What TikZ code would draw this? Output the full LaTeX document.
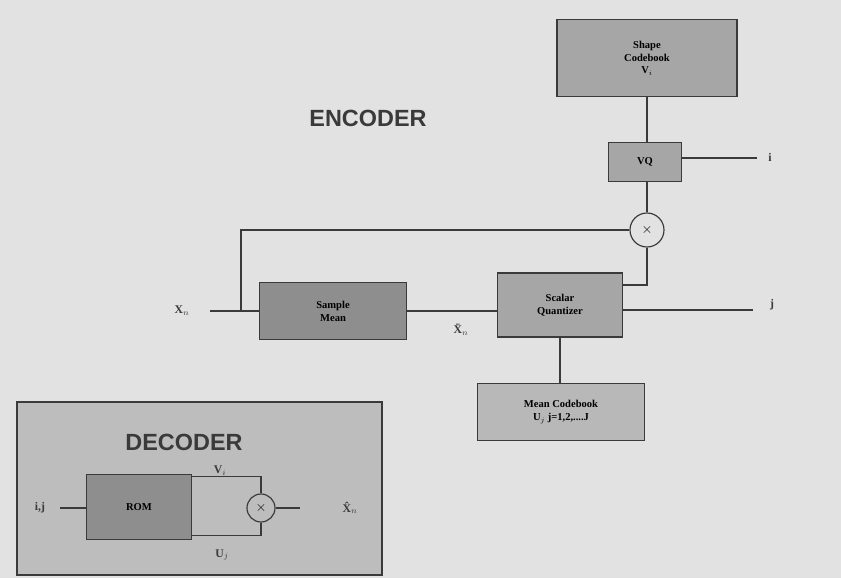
\documentclass[tikz,border=0pt]{standalone}
\usepackage{fontspec}
\setmainfont{Liberation Serif}
\newfontfamily\headfont{Liberation Sans}
\usetikzlibrary{positioning, calc}
\definecolor{scanBg}{HTML}{E2E2E2}
\definecolor{inkDark}{HTML}{3A3A3A}
\definecolor{boxGray}{HTML}{A6A6A6}
\definecolor{boxDark}{HTML}{8E8E8E}
\definecolor{panelGray}{HTML}{BDBDBD}

\tikzset{
  blockbox/.style={draw=inkDark, line width=1.2pt, fill=boxGray,
    font=\bfseries\small, align=center, inner sep=1pt},
  wire/.style={draw=inkDark, line width=1pt},
  mixer/.style={circle, draw=inkDark, line width=1pt, fill=scanBg,
    inner sep=0pt, font=\large},
  sig/.style={font=\bfseries, text=inkDark},
  heading/.style={font=\headfont\bfseries\fontsize{20}{22}\selectfont, text=inkDark}
}

\begin{document}
\begin{tikzpicture}[x=0.03cm, y=-0.03cm]
        \fill[scanBg] (0,0) rectangle (841,578);
        \useasboundingbox (0,0) rectangle (841,578);

        % encoder
        \node[heading] (enc) at (368,118) {ENCODER};
        \node[blockbox, minimum width=5.4cm, minimum height=2.3cm] (shape) at (647,58) {Shape\\Codebook\\V$_i$};
        \node[blockbox, minimum width=2.2cm, minimum height=1.17cm] (vq) at (645,162) {VQ};
        \node[mixer, minimum size=1.02cm] (mult) at (647,230) {$\times$};
        \node[blockbox, fill=boxDark, minimum width=4.4cm, minimum height=1.7cm] (smean) at (333,311) {Sample\\Mean};
        \node[blockbox, minimum width=3.75cm, minimum height=1.92cm] (squant) at (560,305) {Scalar\\Quantizer};
        \node[blockbox, fill=boxGray!80, minimum width=5cm, minimum height=1.7cm] (mbook) at (561,412) {Mean Codebook\\U$_j$ j=1,2,....J};

        \node[sig] (xn) at (182,311) {X$_n$};
        \node[sig] (xbar) at (461,330) {\={X}$_n$};
        \node[sig] (iout) at (770,157) {i};
        \node[sig] (jout) at (772,305) {j};
        \coordinate (xin) at (210,311);
        \coordinate (tap) at (241,311);
        \coordinate (iend) at (757,158);
        \coordinate (jend) at (753,310);

        \draw[wire] (shape.south -| mult) -- (mult |- vq.north);
        \draw[wire] (vq.east |- iend) -- (iend);
        \draw[wire] (mult |- vq.south) -- (mult.north);
        \draw[wire] (xin) -- (smean.west);
        \draw[wire] (tap) |- (mult.west);
        \draw[wire] (smean.east) -- (smean.east -| squant.west);
        \draw[wire] (mult.south) |- ([yshift=0.6cm]squant.east);
        \draw[wire] (squant.east |- jend) -- (jend);
        \draw[wire] (squant.south) -- (squant.south |- mbook.north);

        % decoder
        \fill[panelGray, draw=inkDark, line width=1pt] (17,402) rectangle (382,575);
        \node[heading] (dec) at (184,442) {DECODER};
        \node[blockbox, fill=boxDark, minimum width=3.15cm, minimum height=1.95cm] (rom) at (139,507) {ROM};
        \node[mixer, fill=panelGray, minimum size=0.84cm] (add) at (261,508) {$\times$};
        \node[sig] (ij) at (40,508) {i,j};
        \node[sig] (vi) at (220,471) {V$_i$};
        \node[sig] (uj) at (222,555) {U$_j$};
        \node[sig] (xhat) at (350,508) {\^{X}$_n$};
        \coordinate (ijend) at (60,508);
        \coordinate (xend) at (300,508);

        \draw[wire] (ijend) -- (ijend -| rom.west);
        \draw[wire] ([yshift=-0.09cm]rom.north east) -| (add.north);
        \draw[wire] ([yshift=0.15cm]rom.south east) -| (add.south);
        \draw[wire] (add.east) -- (xend);
      \end{tikzpicture}
\end{document}
